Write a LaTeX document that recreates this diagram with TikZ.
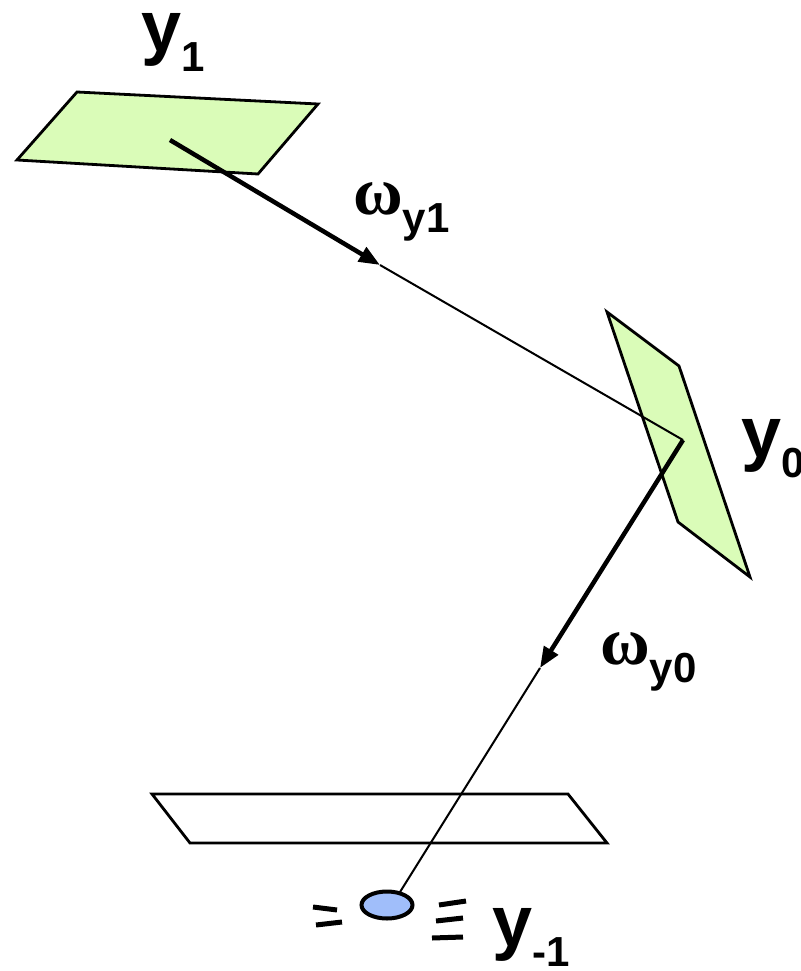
\documentclass[tikz,border=0pt]{standalone}
\usepackage{fontspec}
\setmainfont{Liberation Sans}
\newfontfamily\omegafont{Liberation Serif}
\usetikzlibrary{arrows.meta,shapes.geometric}
\definecolor{planegreen}{RGB}{218,252,184}
\definecolor{dotblue}{RGB}{160,190,250}
\tikzset{
  plane/.style={draw=black, line width=2.8pt, line join=miter},
  thickarrow/.style={line width=4.5pt, -{Triangle[length=21pt,width=16pt]}},
  thinline/.style={line width=2pt},
  tick/.style={line width=5pt},
  biglabel/.style={inner sep=0pt, anchor=base west, font=\bfseries},
}
\newcommand{\ylab}[1]{\fontsize{72}{72}\selectfont y\raisebox{-20pt}{\fontsize{42}{42}\selectfont #1}}
\newcommand{\wlab}[1]{{\omegafont\fontsize{68}{68}\selectfont ω}\raisebox{-18pt}{\fontsize{42}{42}\selectfont #1}}
\begin{document}
\begin{tikzpicture}[x=1pt,y=-1pt]
\useasboundingbox (0,0) rectangle (800,971);
% planes
\coordinate (a1) at (77,92);  \coordinate (a2) at (318,104);
\coordinate (a3) at (258,174); \coordinate (a4) at (17,160);
\coordinate (b1) at (607,312); \coordinate (b2) at (679,366);
\coordinate (b3) at (750,577); \coordinate (b4) at (678,522);
\coordinate (c1) at (152,794); \coordinate (c2) at (568,794);
\coordinate (c3) at (607,843); \coordinate (c4) at (190,843);
\draw[plane, fill=planegreen] (a1) -- (a2) -- (a3) -- (a4) -- cycle;
\draw[plane, fill=planegreen] (b1) -- (b2) -- (b3) -- (b4) -- cycle;
\draw[plane] (c1) -- (c2) -- (c3) -- (c4) -- cycle;
% path points
\coordinate (p1) at (170,140);
\coordinate (t1) at (380,265);
\coordinate (p0) at (683,440);
\coordinate (t0) at (540,668);
\node[ellipse, minimum width=51pt, minimum height=27pt, inner sep=0pt, draw, line width=4pt, fill=dotblue] (dot) at (387,905) {};
\coordinate (pm) at (400,892);
\draw[thickarrow] (p1) -- (t1);
\draw[thinline] (t1) -- (p0);
\draw[thickarrow] (p0) -- (t0);
\draw[thinline] (t0) -- (pm);
% ticks
\coordinate (l1a) at (313,907); \coordinate (l1b) at (337,910);
\coordinate (l2a) at (316,925); \coordinate (l2b) at (342,922);
\coordinate (r1a) at (439,905); \coordinate (r1b) at (466,901);
\coordinate (r2a) at (436,921); \coordinate (r2b) at (463,918);
\coordinate (r3a) at (432,938); \coordinate (r3b) at (463,937);
\draw[tick] (l1a) -- (l1b);
\draw[tick] (l2a) -- (l2b);
\draw[tick] (r1a) -- (r1b);
\draw[tick] (r2a) -- (r2b);
\draw[tick] (r3a) -- (r3b);
% labels
\node[biglabel] (ly1) at (141,52) {\ylab{1}};
\node[biglabel] (lw1) at (353,214) {\wlab{y1}};
\node[biglabel] (ly0) at (741,457) {\ylab{0}};
\node[biglabel] (lw0) at (600,664) {\wlab{y0}};
\node[biglabel] (lym) at (492,946) {\ylab{-1}};
\end{tikzpicture}
\end{document}
